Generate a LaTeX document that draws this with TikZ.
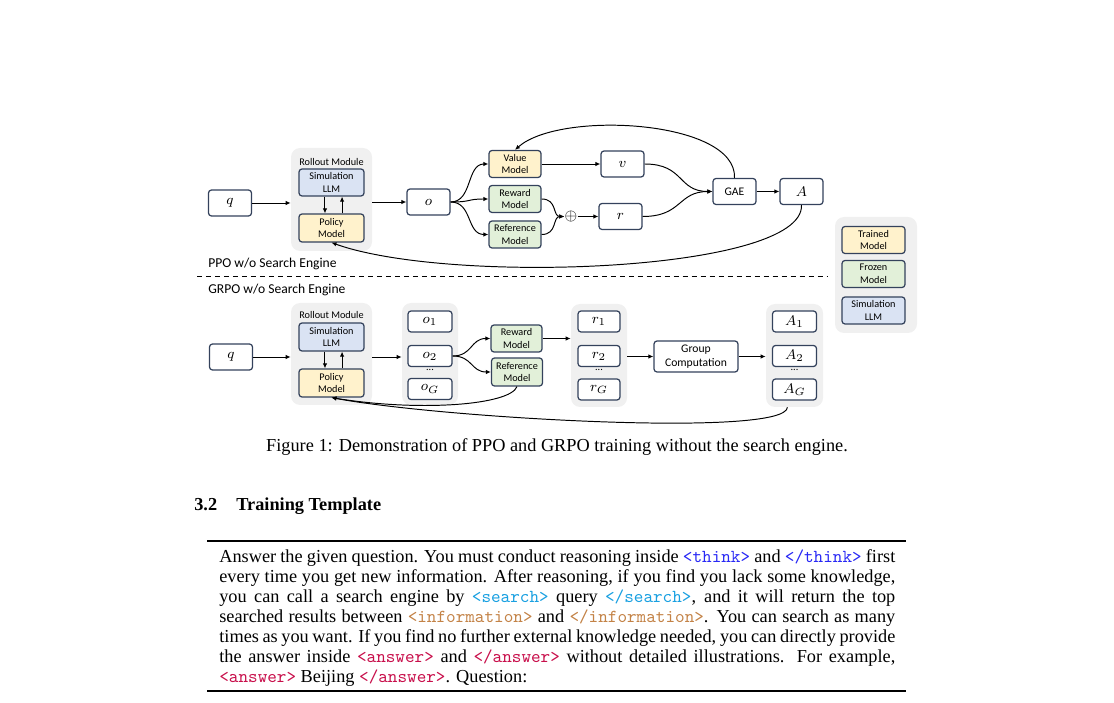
\documentclass[tikz,border=0pt]{standalone}
\usepackage{fontspec}
\setmainfont{Liberation Serif}
\setsansfont{Carlito}
\usetikzlibrary{arrows.meta}

\newdimen\px \px=0.567pt
\definecolor{bordc}{RGB}{52,66,92}
\definecolor{yelc}{RGB}{255,242,204}
\definecolor{grnc}{RGB}{226,240,217}
\definecolor{bluc}{RGB}{218,227,243}
\definecolor{bgc}{RGB}{240,240,240}
\definecolor{thinkc}{RGB}{40,40,245}
\definecolor{searchc}{RGB}{25,160,225}
\definecolor{infoc}{RGB}{195,130,70}
\definecolor{answerc}{RGB}{200,15,75}
\newcommand{\tagtt}[2]{{\ttfamily\color{#1}#2}}
\newcommand{\tline}[1]{\makebox[676\px][s]{#1}}

\tikzset{
  box/.style={draw=bordc, line width=0.7pt, rounded corners=3\px, fill=white, inner sep=0pt,
    minimum width=43\px, minimum height=26\px, font=\fontsize{8.3}{9}\selectfont},
  model/.style={box, minimum width=52\px, minimum height=27\px, align=center,
    font=\sffamily\fontsize{5.8}{7.2}\selectfont},
  trained/.style={model, fill=yelc},
  frozen/.style={model, fill=grnc},
  simllm/.style={model, fill=bluc},
  smallbox/.style={box, minimum width=44\px, minimum height=21\px},
  panel/.style={fill=bgc, rounded corners=9\px, inner sep=0pt},
  modtext/.style={font=\sffamily\fontsize{5.8}{7.2}\selectfont, inner sep=0pt},
  lbl/.style={font=\sffamily\fontsize{7.7}{9}\selectfont, inner sep=0pt},
  arr/.style={-{Latex[length=2.8pt,width=2.5pt]}, line width=0.55pt},
  bodytext/.style={font=\fontsize{10.37}{12}\selectfont, inner sep=0pt, anchor=base west},
}

\begin{document}
\begin{tikzpicture}[x=0.567pt, y=-0.567pt]
\useasboundingbox (0,0) rectangle (1114,703);

% PPO
\node[box] (q1) at (230,203) {$q$};
\node[panel, minimum width=81\px, minimum height=103\px] (ro1) at (331.5,199.5) {};
\node[modtext] (rolab1) at (331.5,161.5) {Rollout Module};
\node[simllm, minimum width=65\px] (sim1) at (331.5,182.5) {Simulation\\LLM};
\node[trained, minimum width=65\px, minimum height=28\px] (pol1) at (331.5,228) {Policy\\Model};
\node[box] (o1) at (428.5,202) {$o$};
\node[trained] (val) at (515,164) {Value\\Model};
\node[frozen] (rew) at (515,199) {Reward\\Model};
\node[frozen] (ref) at (515,234.5) {Reference\\Model};
\node[inner sep=0pt, font=\fontsize{9}{9}\selectfont] (plus) at (571,216.5) {$\oplus$};
\node[box] (r) at (620.5,216.5) {$r$};
\node[box] (v) at (622.5,164) {$v$};
\node[box, font=\sffamily\fontsize{6.6}{8}\selectfont] (gae) at (734.5,191.5) {GAE};
\node[box] (adv) at (801.5,191.5) {$A$};

\draw[arr] (q1.east) -- (q1 -| ro1.west);
\draw[arr] (ro1.east |- o1) -- (o1.west);
\draw[arr] ([xshift=-3.7pt]sim1.south) -- ([xshift=-3.7pt]pol1.north);
\draw[arr] ([xshift=6pt]pol1.north) -- ([xshift=6pt]sim1.south);
\draw[arr] (o1.east) .. controls +(22,0) and +(-22,0) .. (val.west);
\draw[arr] (o1.east) .. controls +(22,0) and +(-22,0) .. (rew.west);
\draw[arr] (o1.east) .. controls +(22,0) and +(-22,0) .. (ref.west);
\draw[arr] (val.east) -- (v.west);
\draw[arr] (rew.east) .. controls +(16,0) and +(-12,0) .. (plus.west);
\draw[arr] (ref.east) .. controls +(16,0) and +(-12,0) .. (plus.west);
\draw[arr] (plus.east) -- (r.west);
\draw[arr] (v.east) .. controls +(40,0) and +(-35,0) .. (gae.west);
\draw[arr] (r.east) .. controls +(40,0) and +(-35,0) .. (gae.west);
\draw[arr] (gae.east) -- (adv.west);
\draw[arr] (gae.north) .. controls (737,120) and (560,110) .. (val.north);
\draw[arr] (adv.south) .. controls (804,272) and (450,285) .. (pol1.south);

\node[lbl, anchor=west] (ppolab) at (208,264) {PPO w/o Search Engine};
\draw[dash pattern=on 2.8pt off 2.3pt, line width=0.5pt] (197,276) -- (828,276);
\node[lbl, anchor=west] (grpolab) at (208,290) {GRPO w/o Search Engine};

% Legende
\node[panel, minimum width=82\px, minimum height=116\px] (leg) at (876,275) {};
\node[trained, minimum width=63\px] (legt) at (873.5,240) {Trained\\Model};
\node[frozen, minimum width=63\px] (legf) at (873.5,274) {Frozen\\Model};
\node[simllm, minimum width=63\px] (legs) at (873.5,310.5) {Simulation\\LLM};

% GRPO
\node[box] (q2) at (231,357) {$q$};
\node[panel, minimum width=81\px, minimum height=102\px] (ro2) at (331.5,354) {};
\node[modtext] (rolab2) at (331.5,315) {Rollout Module};
\node[simllm, minimum width=65\px, minimum height=28\px] (sim2) at (331.5,337) {Simulation\\LLM};
\node[trained, minimum width=65\px, minimum height=28\px] (pol2) at (331.5,383) {Policy\\Model};

\node[panel, minimum width=56\px, minimum height=102\px] (ocol) at (430,354) {};
\node[smallbox] (og1) at (430,321.5) {$o_1$};
\node[smallbox] (og2) at (430,356) {$o_2$};
\node[modtext] (odots) at (430,370) {...};
\node[smallbox] (ogG) at (430,389) {$o_G$};

\node[frozen, minimum width=51\px] (rew2) at (516.5,338.5) {Reward\\Model};
\node[frozen, minimum width=51\px, minimum height=28\px] (ref2) at (517,372) {Reference\\Model};

\node[panel, minimum width=56\px, minimum height=103\px] (rcol) at (599,355.5) {};
\node[smallbox, minimum width=42\px] (rg1) at (599,321.5) {$r_1$};
\node[smallbox, minimum width=42\px] (rg2) at (599,356) {$r_2$};
\node[modtext] (rdots) at (599,370) {...};
\node[smallbox, minimum width=42\px] (rgG) at (599,389.5) {$r_G$};

\node[box, minimum width=84\px, minimum height=31\px, align=center,
  font=\sffamily\fontsize{6.6}{8.2}\selectfont] (grp) at (696,356.5) {Group\\Computation};

\node[panel, minimum width=57\px, minimum height=103\px] (acol) at (794.5,355.5) {};
\node[smallbox] (ag1) at (794.5,321.5) {$A_1$};
\node[smallbox] (ag2) at (794.5,356) {$A_2$};
\node[modtext] (adots) at (794.5,370) {...};
\node[smallbox] (agG) at (794.5,389.5) {$A_G$};

\draw[arr] (q2.east) -- (q2 -| ro2.west);
\draw[arr] (ro2.east |- q2) -- (q2 -| ocol.west);
\draw[arr] ([xshift=-3.7pt]sim2.south) -- ([xshift=-3.7pt]pol2.north);
\draw[arr] ([xshift=6pt]pol2.north) -- ([xshift=6pt]sim2.south);
\draw[arr] (og2.east) .. controls +(20,0) and +(-20,0) .. (rew2.west);
\draw[arr] (og2.east) .. controls +(20,0) and +(-20,0) .. (ref2.west);
\draw[arr] (rew2.east) -- (rew2.east -| rcol.west);
\draw[arr] (rcol.east |- grp) -- (grp.west);
\draw[arr] (grp.east) -- (grp -| acol.west);
\draw[arr] ([xshift=-4pt]acol.south) .. controls (785,438) and (440,418) .. (pol2.south);
\draw[arr] (ref2.south) .. controls (510,405) and (420,412) .. (pol2.south);

% Bildunterschrift und Abschnitt
\node[font=\fontsize{10.37}{12}\selectfont, anchor=base, inner sep=0pt] (cap) at (557,451)
  {Figure 1: Demonstration of PPO and GRPO training without the search engine.};
\node[font=\bfseries\fontsize{10.37}{12}\selectfont, anchor=base west, inner sep=0pt] (secnum) at (194,510) {3.2};
\node[font=\bfseries\fontsize{10.37}{12}\selectfont, anchor=base west, inner sep=0pt] (sectitle) at (236,510) {Training Template};

% Vorlage
\draw[line width=1pt] (207,541) -- (906,541);
\node[bodytext] (t1) at (219,562) {\tline{Answer the given question.  You must conduct reasoning inside \tagtt{thinkc}{<think>} and \tagtt{thinkc}{</think>} first}};
\node[bodytext] (t2) at (219,582) {\tline{every time you get new information.  After reasoning, if you find you lack some knowledge,}};
\node[bodytext] (t3) at (219,602) {\tline{you can call a search engine by \tagtt{searchc}{<search>} query \tagtt{searchc}{</search>}, and it will return the top}};
\node[bodytext] (t4) at (219,622) {\tline{searched results between \tagtt{infoc}{<information>} and \tagtt{infoc}{</information>}.  You can search as many}};
\node[bodytext] (t5) at (219,642) {\tline{times as you want.  If you find no further external knowledge needed, you can directly provide}};
\node[bodytext] (t6) at (219,662) {\tline{the answer inside \tagtt{answerc}{<answer>} and \tagtt{answerc}{</answer>} without detailed illustrations.  For example,}};
\node[bodytext] (t7) at (219,682) {\tagtt{answerc}{<answer>} Beijing \tagtt{answerc}{</answer>}. Question:};
\draw[line width=1pt] (207,691) -- (906,691);
\end{tikzpicture}
\end{document}
